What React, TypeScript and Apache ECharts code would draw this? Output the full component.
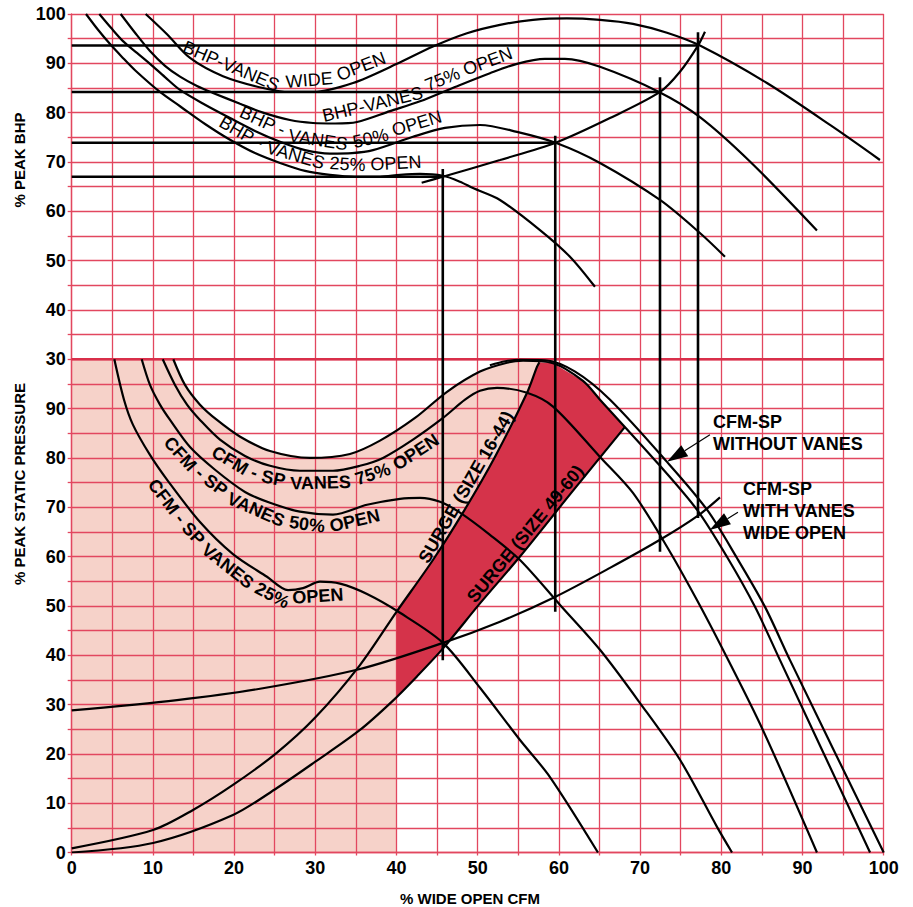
import React, { useEffect, useRef } from 'react';
import * as echarts from 'echarts';

const FONT = '"Liberation Sans", Arial, Helvetica, sans-serif';
const GRID_RED = '#e2475f';
const BOUNDARY_RED = '#d92f4a';
const PINK = '#f6d2c9';
const SURGE_RED = '#d5334a';

// Shared axis: bottom panel % peak static pressure 0..100, top panel % peak BHP 30..100 stacked above it
const SP_MAX = 100;
const BHP_MIN = 30;
const BHP_MAX = 100;
const BHP_SHIFT = SP_MAX - BHP_MIN;
const Y_MAX = BHP_MAX + BHP_SHIFT;

// ---------- top panel: % peak BHP vs % wide open CFM ----------
const BHP_WIDE_OPEN = [
  [9.11, 100], [11.74, 95.9], [14.57, 91.1], [18.63, 87.4], [23.56, 85.0], [26.88, 84.2], [29.72, 84.2],
  [34.64, 86.0], [40.06, 89.9], [44.49, 93.4], [48.68, 96.1], [52.74, 97.8], [56.81, 98.8], [60.99, 99.1],
  [65.06, 98.8], [69.12, 98.0], [73.31, 96.2], [77.37, 93.6], [85.62, 86.0], [93.75, 77.1], [99.54, 70.4],
];
const BHP_75 = [
  [6.03, 100], [7.8, 96.2], [9.64, 92.5], [11.49, 89.5], [13.34, 87.3], [15.43, 85.4], [17.4, 84.0],
  [20.73, 81.8], [23.56, 80.0], [26.88, 78.5], [29.72, 77.9], [32.43, 77.8], [35.14, 78.1], [39.2, 80.3],
  [42.89, 82.3], [47.2, 85.2], [51.51, 88.0], [54.84, 89.9], [58.28, 90.9], [60.74, 90.9], [65.06, 89.3],
  [72.45, 84.1], [77.37, 79.1], [83.53, 70.1], [91.78, 56.1],
];
const BHP_50 = [
  [3.4, 100], [4.84, 97.2], [6.32, 94.5], [8.04, 92.1], [9.64, 89.9], [11.49, 87.2], [13.34, 84.6],
  [16.42, 81.6], [19.5, 78.9], [22.57, 76.3], [25.66, 74.1], [28.74, 72.4], [31.81, 71.7], [34.52, 71.8],
  [37.1, 72.4], [42.03, 75.1], [45.97, 76.9], [50.28, 77.5], [54.84, 76.1], [59.76, 73.8], [65.06, 69.8],
  [72.45, 62.3], [77.37, 55.6], [80.45, 50.8],
];
const BHP_25 = [
  [1.76, 100], [3.24, 96.8], [4.72, 93.9], [6.19, 91.3], [7.8, 88.6], [10.87, 84.2], [13.34, 81.3],
  [16.42, 77.7], [19.5, 74.5], [22.57, 71.8], [25.66, 69.8], [28.74, 68.2], [31.81, 67.4], [34.89, 67.0],
  [37.97, 67.0], [40.43, 67.4], [42.89, 67.6], [45.73, 67.2], [47.82, 66.0], [49.42, 64.7], [52.74, 62.3],
  [57.67, 56.2], [61.36, 50.8], [64.44, 44.7],
];
const BHP_OPERATING = [
  [43.1, 65.8], [45.7, 67.0], [52.75, 70.4], [59.6, 73.9], [66.29, 78.9], [72.45, 84.2], [74.91, 88.3],
  [77.13, 93.6], [77.99, 96.4],
];

// operating points (25%, 50%, 75%, wide open)
const OP_X = [45.7, 59.55, 72.45, 77.13];
const OP_BHP = [67.0, 73.9, 84.2, 93.6];
const V_TOP_BHP = [68.6, 75.3, 87.2, 96.3];
const V_BOTTOM_SP = [39.0, 48.8, 61.0, 67.8];

// ---------- bottom panel: % peak static pressure vs % wide open CFM ----------
const SP_WITHOUT_VANES = [
  [51.5, 98.8], [53.4, 99.6], [55.2, 99.9], [58.3, 99.8], [62.0, 97.5], [66.3, 91.8], [73.31, 79.2],
  [78.24, 69.5], [81.93, 59.7], [85.38, 49.8], [88.46, 39.0], [100, 0],
];
const SP_WIDE_OPEN = [
  [12.51, 100], [13.95, 94.8], [15.8, 90.8], [17.89, 87.7], [20.75, 84.3], [24.42, 81.4], [29.35, 80.0],
  [34.27, 80.8], [37.97, 83.5], [42.28, 88.1], [46.22, 93.4], [50.28, 97.5], [53.61, 99.3], [55.58, 99.7],
  [59.28, 99.2], [62.97, 95.6], [65.06, 91.8], [72.45, 78.4], [77.0, 69.5], [80.71, 59.9], [84.15, 49.8],
  [87.23, 39.0], [98.32, 0],
];
const SP_75 = [
  [11.21, 100], [12.72, 94.8], [14.2, 90.8], [15.8, 87.7], [18.26, 83.7], [21.34, 80.4], [24.42, 78.4],
  [28.11, 77.4], [32.18, 77.4], [35.5, 78.4], [38.34, 80.0], [42.03, 83.7], [45.73, 88.1], [48.44, 91.8],
  [50.28, 93.6], [52.38, 94.2], [56.08, 93.2], [59.28, 90.4], [65.06, 80.2], [69.12, 72.9], [73.31, 62.0],
  [77.0, 51.2], [80.21, 41.1], [85.13, 24.8], [91.78, 0],
];
const SP_50 = [
  [8.62, 100], [9.64, 94.8], [10.87, 90.8], [12.11, 87.7], [14.57, 82.2], [17.65, 77.6], [21.34, 73.1],
  [24.42, 70.9], [28.11, 69.1], [32.18, 68.5], [36.37, 70.5], [40.43, 71.7], [42.89, 71.9], [45.36, 71.1],
  [47.82, 68.9], [51.51, 64.4], [55.21, 59.3], [60.14, 50.2], [65.06, 41.1], [69.99, 30.3], [74.91, 18.8],
  [79.47, 5.2], [81.32, 0],
];
const SP_25 = [
  [5.25, 100], [6.44, 91.8], [7.55, 86.7], [9.64, 80.6], [11.73, 75.6], [15.8, 67.0], [19.86, 60.5],
  [24.05, 55.9], [26.64, 53.2], [28.49, 53.6], [30.58, 54.9], [33.05, 54.5], [36.37, 52.4], [40.43, 48.6],
  [45.73, 42.5], [50.28, 33.4], [55.21, 22.8], [58.9, 15.3], [64.81, 0],
];
const SYSTEM_CURVE = [
  [0, 28.8], [12.97, 30.9], [23.19, 33.2], [35.5, 37.2], [45.73, 42.5], [52.75, 46.8], [59.52, 51.8],
  [66.29, 57.7], [72.45, 63.4], [77.13, 68.3], [79.84, 72.0],
];
const SURGE_16_44 = [
  [0, 0.85], [10.01, 4.56], [14.94, 8.62], [19.86, 13.7], [25.25, 20.2], [29.96, 27.3],
  [35.5, 38.0], [40.0, 48.8], [44.49, 59.3], [48.18, 68.9], [52.12, 80.2], [56.08, 93.2], [57.31, 98.5],
  [57.6, 99.4],
];
const SURGE_49_60 = [
  [0, 0], [10.01, 1.93], [19.86, 7.61], [25.28, 13.08], [29.96, 18.36], [35.5, 24.85], [39.57, 30.8],
  [42.52, 35.7], [45.73, 41.38], [50.28, 50.5], [55.21, 60.0], [61.37, 72.6], [68.14, 86.3],
];
const SHADE_EDGE_X = 40;

// ---------- label layout ----------
type LabelSpec = {
  text: string; curve: number[][]; top: boolean; startX: number;
  side: 'above' | 'below'; offset: number; size: number; bold: boolean; whole?: boolean;
};
const CURVE_LABELS: LabelSpec[] = [
  { text: 'BHP-VANES WIDE OPEN', curve: BHP_WIDE_OPEN, top: true, startX: 13.4, side: 'above', offset: 3, size: 18, bold: false },
  { text: 'BHP-VANES 75% OPEN', curve: BHP_75, top: true, startX: 30.8, side: 'above', offset: 3, size: 18, bold: false },
  { text: 'BHP - VANES 50% OPEN', curve: BHP_50, top: true, startX: 20.2, side: 'above', offset: 3, size: 18, bold: false },
  { text: 'BHP - VANES 25% OPEN', curve: BHP_25, top: true, startX: 17.6, side: 'above', offset: 3, size: 18, bold: false },
  { text: 'CFM - SP VANES 75% OPEN', curve: SP_75, top: false, startX: 18.4, side: 'below', offset: 3, size: 18, bold: true },
  { text: 'CFM - SP VANES 50% OPEN', curve: SP_50, top: false, startX: 13.1, side: 'below', offset: 3, size: 18, bold: true },
  { text: 'CFM - SP VANES 25% OPEN', curve: SP_25, top: false, startX: 11.2, side: 'below', offset: 4, size: 18, bold: true },
  { text: 'SURGE (SIZE 16-44)', curve: SURGE_16_44, top: false, startX: 44.0, side: 'above', offset: 1, size: 18, bold: true, whole: true },
  { text: 'SURGE (SIZE 49-60)', curve: SURGE_49_60, top: false, startX: 50.0, side: 'above', offset: 1, size: 18, bold: true, whole: true },
];
const WORD_GAP = 1.0;

const ARROWS = [
  { from: [78.6, 84.7], to: [73.31, 79.2] },
  { from: [82.05, 69.0], to: [78.57, 65.4] },
];

function interpY(curve: number[][], x: number) {
  for (let i = 1; i < curve.length; i++) {
    if (curve[i][0] >= x) {
      const [x0, y0] = curve[i - 1];
      const [x1, y1] = curve[i];
      return y0 + ((x - x0) / (x1 - x0)) * (y1 - y0);
    }
  }
  return curve[curve.length - 1][1];
}

function buildPolygons() {
  const pEnd = SURGE_16_44[SURGE_16_44.length - 1];
  const qEnd = SURGE_49_60[SURGE_49_60.length - 1];
  const pAtEdge = [SHADE_EDGE_X, interpY(SURGE_16_44, SHADE_EDGE_X)];
  const qAtEdge = [SHADE_EDGE_X, interpY(SURGE_49_60, SHADE_EDGE_X)];
  const pink: number[][] = [[0, 0], [0, SP_MAX]];
  SP_WIDE_OPEN.filter((p) => p[0] < pEnd[0]).forEach((p) => pink.push(p));
  pink.push(pEnd);
  SURGE_16_44.filter((p) => p[0] > SHADE_EDGE_X && p[0] < pEnd[0]).reverse().forEach((p) => pink.push(p));
  pink.push(pAtEdge, [SHADE_EDGE_X, 0]);

  const surge: number[][] = [pAtEdge];
  SURGE_16_44.filter((p) => p[0] > SHADE_EDGE_X && p[0] < pEnd[0]).forEach((p) => surge.push(p));
  surge.push(pEnd);
  SP_WIDE_OPEN.filter((p) => p[0] > pEnd[0] && p[0] < qEnd[0]).forEach((p) => surge.push(p));
  surge.push(qEnd);
  SURGE_49_60.filter((p) => p[0] > SHADE_EDGE_X && p[0] < qEnd[0]).reverse().forEach((p) => surge.push(p));
  surge.push(qAtEdge);
  return { pink, surge };
}

const shift = (arr: number[][]) => arr.map(([x, y]) => [x, y + BHP_SHIFT]);

function curveSeries(data: number[][], width = 2.2, smooth = true, z = 5, color = '#000') {
  return {
    type: 'line', data, showSymbol: false, symbol: 'none', smooth: smooth ? 0.3 : false,
    lineStyle: { color, width, cap: 'butt' }, z, silent: true, clip: true,
  };
}

function polygonSeries(points: number[][], fill: string, z: number) {
  return {
    type: 'custom', z, silent: true, data: [[0, 0]], encode: { x: 0, y: 1 },
    renderItem: (_p: any, api: any) => ({
      type: 'polygon',
      shape: { points: points.map((pt) => api.coord(pt)) },
      style: { fill, stroke: 'none' },
    }),
  };
}

function buildOption() {
  const { pink, surge } = buildPolygons();
  const series: any[] = [
    polygonSeries(pink, PINK, 1),
    polygonSeries(surge, SURGE_RED, 4),
    curveSeries([[0, SP_MAX], [100, SP_MAX]], 2.6, false, 3, BOUNDARY_RED),
  ];
  [BHP_WIDE_OPEN, BHP_75, BHP_50, BHP_25, BHP_OPERATING].forEach((c) => series.push(curveSeries(shift(c))));
  [SP_WITHOUT_VANES, SP_WIDE_OPEN, SP_75, SP_50, SP_25, SYSTEM_CURVE, SURGE_16_44, SURGE_49_60].forEach((c) =>
    series.push(curveSeries(c)),
  );
  OP_X.forEach((x, i) => {
    series.push(curveSeries([[0, OP_BHP[i] + BHP_SHIFT], [x, OP_BHP[i] + BHP_SHIFT]], 2.6, false, 6));
    series.push(curveSeries([[x, V_BOTTOM_SP[i]], [x, V_TOP_BHP[i] + BHP_SHIFT]], 2.6, false, 6));
  });

  const labelStyle = { color: '#000', fontWeight: 'bold', fontSize: 18, fontFamily: FONT };
  return {
    animation: false,
    grid: { left: 71.7, top: 14, width: 812, height: 838.5, containLabel: false },
    xAxis: {
      type: 'value', min: 0, max: 100, interval: 5, z: 2,
      axisLine: { show: true, lineStyle: { color: GRID_RED, width: 1.3 } },
      axisTick: { show: true, length: 3, lineStyle: { color: GRID_RED, width: 1.3 } },
      axisLabel: { ...labelStyle, margin: 6, formatter: (v: number) => (v % 10 === 0 ? String(v) : '') },
      splitLine: { show: true, lineStyle: { color: GRID_RED, width: 1.3 } },
    },
    yAxis: {
      type: 'value', min: 0, max: Y_MAX, interval: 5, z: 2,
      axisLine: { show: true, lineStyle: { color: GRID_RED, width: 1.3 } },
      axisTick: { show: true, length: 4, lineStyle: { color: GRID_RED, width: 1.3 } },
      axisLabel: {
        ...labelStyle, margin: 6,
        formatter: (v: number) => {
          if (v % 10 !== 0) return '';
          if (v < SP_MAX) return String(v);
          return String(v - BHP_SHIFT);
        },
      },
      splitLine: { show: true, lineStyle: { color: GRID_RED, width: 1.3 } },
    },
    series,
  };
}

function buildGraphics(chart: any) {
  const els: any[] = [];
  const pix = (x: number, y: number) => chart.convertToPixel({ gridIndex: 0 }, [x, y]) as number[];
  const ctx = document.createElement('canvas').getContext('2d') as CanvasRenderingContext2D;

  CURVE_LABELS.forEach((spec) => {
    const pts = spec.curve.map(([x, y]) => pix(x, y + (spec.top ? BHP_SHIFT : 0)));
    const sg = spec.side === 'below' ? 1 : -1;
    const d = sg * (spec.offset + spec.size * 0.5);
    // path followed by the middle line of the text
    const path = pts.map((p, i) => {
      const p0 = pts[Math.max(0, i - 1)];
      const p1 = pts[Math.min(pts.length - 1, i + 1)];
      const th = Math.atan2(p1[1] - p0[1], p1[0] - p0[0]);
      return [p[0] - Math.sin(th) * d, p[1] + Math.cos(th) * d];
    });
    const cum = [0];
    for (let i = 1; i < path.length; i++) {
      cum.push(cum[i - 1] + Math.hypot(path[i][0] - path[i - 1][0], path[i][1] - path[i - 1][1]));
    }
    const at = (s: number) => {
      let i = 1;
      while (i < path.length - 1 && cum[i] < s) i++;
      const t = (s - cum[i - 1]) / (cum[i] - cum[i - 1]);
      return [path[i - 1][0] + t * (path[i][0] - path[i - 1][0]), path[i - 1][1] + t * (path[i][1] - path[i - 1][1])];
    };
    const sx = pix(spec.startX, 0)[0];
    let s0 = 0;
    for (let i = 1; i < pts.length; i++) {
      if (pts[i][0] >= sx) {
        const t = (sx - pts[i - 1][0]) / (pts[i][0] - pts[i - 1][0]);
        s0 = cum[i - 1] + t * (cum[i] - cum[i - 1]);
        break;
      }
    }
    const weight = spec.bold ? 'bold' : 'normal';
    ctx.font = `${weight} ${spec.size}px ${FONT}`;
    const space = ctx.measureText(' ').width;
    const pieces = spec.whole ? [spec.text] : spec.text.split(' ');
    let s = s0;
    pieces.forEach((w) => {
      const wd = ctx.measureText(w).width;
      const a = at(s);
      const b = at(s + wd);
      const c = at(s + wd / 2);
      const th = Math.atan2(b[1] - a[1], b[0] - a[0]);
      els.push({
        type: 'text', x: c[0], y: c[1], rotation: -th, z: 100,
        style: {
          text: w, fill: '#000', fontSize: spec.size, fontWeight: weight, fontFamily: FONT,
          textAlign: 'center', align: 'center', textVerticalAlign: 'middle', verticalAlign: 'middle',
        },
      });
      s += wd + space * WORD_GAP;
    });
  });

  ARROWS.forEach((ar) => {
    const f = pix(ar.from[0], ar.from[1]);
    const t = pix(ar.to[0], ar.to[1]);
    const len = Math.hypot(t[0] - f[0], t[1] - f[1]);
    const u = [(t[0] - f[0]) / len, (t[1] - f[1]) / len];
    const n = [-u[1], u[0]];
    const L = 21, hw = 6.5;
    const b = [t[0] - u[0] * L, t[1] - u[1] * L];
    els.push({ type: 'line', z: 100, shape: { x1: f[0], y1: f[1], x2: b[0], y2: b[1] }, style: { stroke: '#000', lineWidth: 1.2 } });
    els.push({
      type: 'polygon', z: 100,
      shape: { points: [t, [b[0] + n[0] * hw, b[1] + n[1] * hw], [b[0] - n[0] * hw, b[1] - n[1] * hw]] },
      style: { fill: '#000' },
    });
  });

  const txt = (text: string, x: number, y: number, size: number, align = 'left', rotation = 0) => ({
    type: 'text', x, y, rotation, z: 100,
    style: {
      text, fill: '#000', fontSize: size, fontWeight: 'bold', fontFamily: FONT,
      textAlign: align, align, textVerticalAlign: 'middle', verticalAlign: 'middle',
    },
  });
  els.push(txt('CFM-SP', 713, 422, 18));
  els.push(txt('WITHOUT VANES', 713, 444, 18));
  els.push(txt('CFM-SP', 743, 489, 18));
  els.push(txt('WITH VANES', 743, 511, 18));
  els.push(txt('WIDE OPEN', 743, 533, 18));
  els.push(txt('% WIDE OPEN CFM', 470, 898, 15, 'center'));
  els.push(txt('% PEAK BHP', 19, 160, 15, 'center', Math.PI / 2));
  els.push(txt('% PEAK STATIC PRESSURE', 19, 484, 15, 'center', Math.PI / 2));
  return els;
}

export default function App() {
  const ref = useRef<HTMLDivElement>(null);
  useEffect(() => {
    if (!ref.current) return;
    const chart = echarts.init(ref.current, null, { renderer: 'svg' });
    chart.setOption(buildOption() as any);
    chart.setOption({ graphic: { elements: buildGraphics(chart) } } as any);
    return () => chart.dispose();
  }, []);
  return (
    <div
      ref={ref}
      style={{ position: 'fixed', left: 0, top: 0, width: 913, height: 907, background: '#fff' }}
    />
  );
}
